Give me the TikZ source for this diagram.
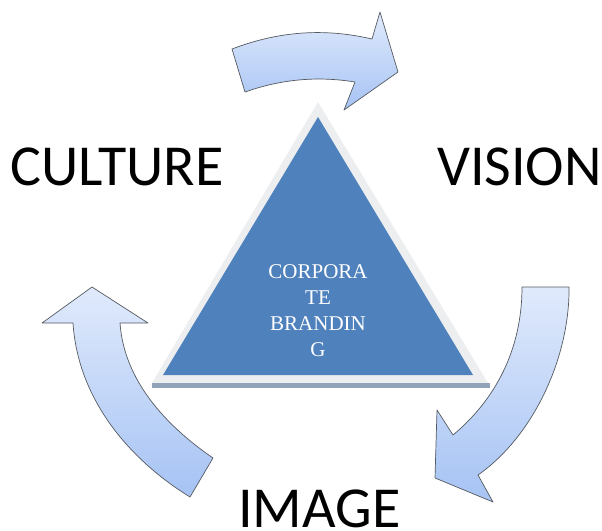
\documentclass[tikz,border=0pt]{standalone}
\usepackage{fontspec}
\setmainfont{Liberation Serif}
\newfontfamily\labelfont{Carlito}
\definecolor{triblue}{HTML}{4F81BD}
\definecolor{trigray}{HTML}{EDEEEF}
\definecolor{trishadow}{HTML}{93A3BA}
\definecolor{arrowtop}{HTML}{E0EAFC}
\definecolor{arrowbot}{HTML}{A6C3F4}
\definecolor{arrowline}{HTML}{555A60}
\begin{document}
\begin{tikzpicture}[x=1pt,y=-1pt,
  cyclearrow/.style={draw=arrowline, line width=0.7pt, line join=round, top color=arrowtop, bottom color=arrowbot},
  biglabel/.style={inner sep=0pt, anchor=base west, font=\labelfont\fontsize{58}{70}\selectfont, text=black},
  centertext/.style={inner sep=0pt, align=center, text=white, font=\fontsize{21}{26}\selectfont}]
\useasboundingbox (0,0) rectangle (602,530);
% central triangle
\fill[trigray] (318,102) -- (488,383) -- (152,383) -- cycle;
\fill[trishadow] (152,383) rectangle (490,388);
\fill[triblue] (318,117) -- (473,375) -- (163,375) -- cycle;
\node[centertext] (core) at (318,311) {CORPORA\\TE\\BRANDIN\\G};
% top arrow
\path[cyclearrow] (232,49) .. controls (279,31) and (325,28) .. (372,39) -- (380,12) -- (398,72) -- (344,110) -- (355,82) .. controls (318,76) and (282,79) .. (245,92) -- cycle;
% right arrow
\path[cyclearrow] (522,287) -- (569,287) .. controls (570,355) and (535,435) .. (478,475) -- (493,502) -- (435,478) -- (437,410) -- (453,435) .. controls (495,400) and (522,350) .. (522,287) -- cycle;
% left arrow
\path[cyclearrow] (92,287) -- (148,323) -- (120,323) .. controls (124,380) and (165,425) .. (213,458) -- (190,497) .. controls (130,460) and (78,400) .. (73,323) -- (42,323) -- cycle;
% labels
\node[biglabel] (culture) at (10,185) {CULTURE};
\node[biglabel] (vision) at (437,185) {VISION};
\node[biglabel] (image) at (238,527) {IMAGE};
\end{tikzpicture}
\end{document}
